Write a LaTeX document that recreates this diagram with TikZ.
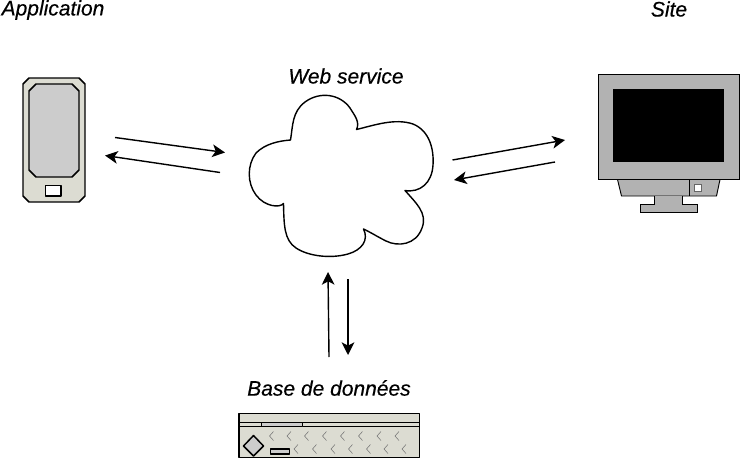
\documentclass[tikz,border=0pt]{standalone}
\usepackage{fontspec}
\setmainfont{Liberation Sans}
\newfontfamily\titlefont[ItalicFeatures = {FakeBold = 0.4}]{Liberation Sans}
\usetikzlibrary{arrows.meta}
\definecolor{casing}{HTML}{DCDCD2}
\definecolor{panel}{HTML}{CCCCCC}
\definecolor{monitor}{HTML}{B2B2B2}

\begin{document}
\begin{tikzpicture}[x = 0.75pt, y = -0.75pt,
    part/.style = {draw, line width = 1.1pt, line join = round},
    thinpart/.style = {draw, line width = 0.7pt, fill = monitor},
    flow/.style = {-{Stealth[length = 9.5pt, width = 9.5pt, inset = 2.5pt]}, line width = 1.05pt},
    title/.style = {font = \fontsize{15.75pt}{18pt}\titlefont\itshape, inner sep = 0pt}]
    \useasboundingbox (0, 0) rectangle (741, 460);

    % labels
    \node[title] (applabel) at (53, 10) {Application};
    \node[title] (sitelabel) at (669, 9) {Site};
    \node[title] (weblabel) at (346, 76) {Web service};
    \node[title] (dblabel) at (329, 388) {Base de données};

    % phone
    \draw[part, fill = casing] (29, 78) -- (79, 78) -- (85, 84) -- (85, 196) -- (79, 202)
        -- (29, 202) -- (23, 196) -- (23, 84) -- cycle;
    \draw[part, fill = panel] (36, 84) -- (72, 84) -- (79, 91) -- (79, 170) -- (72, 177)
        -- (36, 177) -- (29, 170) -- (29, 91) -- cycle;
    \draw[part, fill = white] (45.5, 185.5) rectangle (61, 196);

    % monitor
    \draw[thinpart] (617.5, 179.5) -- (621.5, 196) -- (716.5, 196) -- (720, 179.5) -- cycle;
    \draw[thinpart] (654.5, 196) -- (654.5, 204) -- (640.5, 204) -- (640.5, 212.5)
        -- (697, 212.5) -- (697, 204) -- (682.5, 204) -- (682.5, 196);
    \draw[line width = 0.7pt] (689.5, 179.5) -- (689.5, 196);
    \draw[draw = black!60, line width = 0.4pt, fill = white] (694.5, 184.5) rectangle (701.5, 191.5);
    \draw[thinpart] (598.5, 74) rectangle (739, 179.5);
    \fill[black] (613, 89) rectangle (724, 162);

    % cloud
    \draw[line width = 1.05pt, line join = round]
        (290.5, 140) .. controls (293, 125) and (292, 112) .. (305, 102)
        .. controls (320, 91) and (340, 94) .. (350, 108)
        .. controls (355, 116) and (360, 122) .. (356.5, 129.5)
        .. controls (375, 125) and (395, 118) .. (413, 124)
        .. controls (430, 131) and (434, 150) .. (433, 165)
        .. controls (432, 183) and (420, 193) .. (405, 190.5)
        .. controls (415, 202) and (428, 213) .. (422, 228)
        .. controls (416, 245) and (398, 247) .. (386, 241)
        .. controls (378, 237) and (370, 232) .. (363.5, 229)
        .. controls (369, 240) and (362, 250) .. (348, 254)
        .. controls (330, 259) and (308, 256) .. (296, 248)
        .. controls (284, 240) and (284, 225) .. (283.5, 203.5)
        .. controls (280, 208) and (265, 207) .. (256, 195)
        .. controls (247, 183) and (247, 165) .. (256, 153)
        .. controls (265, 144) and (278, 141) .. (290.5, 140) -- cycle;

    % database
    \draw[part, fill = casing] (239, 413.5) rectangle (419.5, 457.5);
    \draw[part] (239, 422.5) -- (419.5, 422.5);
    \draw[part] (239, 426.5) -- (419.5, 426.5);
    \draw[part, fill = panel] (261.5, 422.5) rectangle (302.5, 426.5);
    \draw[part, fill = panel] (253.5, 435.5) -- (263.5, 446) -- (253.5, 456) -- (243.5, 446) -- cycle;
    \draw[part, fill = panel] (270.5, 449) rectangle (289.5, 454);
    \foreach \x in {270.5, 288, 305.5, 323.5, 341.5, 359.5, 378, 396}
        \draw[black!55, line width = 0.4pt] (\x + 3, 431.5) -- (\x - 1, 436) -- (\x + 3, 440.5);
    \foreach \x in {295, 313.5, 332, 349.5, 367.5, 385, 403}
        \draw[black!55, line width = 0.4pt] (\x + 3, 444.5) -- (\x - 1, 449) -- (\x + 3, 453.5);

    % arrow ends
    \coordinate (appout) at (115, 137.5);
    \coordinate (webin) at (225, 152.5);
    \coordinate (webout) at (220, 172.5);
    \coordinate (appin) at (105, 155.5);
    \coordinate (siteout) at (452.5, 160);
    \coordinate (sitein) at (565, 140);
    \coordinate (backout) at (555, 162);
    \coordinate (backin) at (454, 180);
    \coordinate (dbout) at (329, 357);
    \coordinate (cloudin) at (328, 272);
    \coordinate (cloudout) at (348, 279);
    \coordinate (dbin) at (348, 355);

    \draw[flow] (appout) -- (webin);
    \draw[flow] (webout) -- (appin);
    \draw[flow] (siteout) -- (sitein);
    \draw[flow] (backout) -- (backin);
    \draw[flow] (dbout) -- (cloudin);
    \draw[flow] (cloudout) -- (dbin);
\end{tikzpicture}
\end{document}
